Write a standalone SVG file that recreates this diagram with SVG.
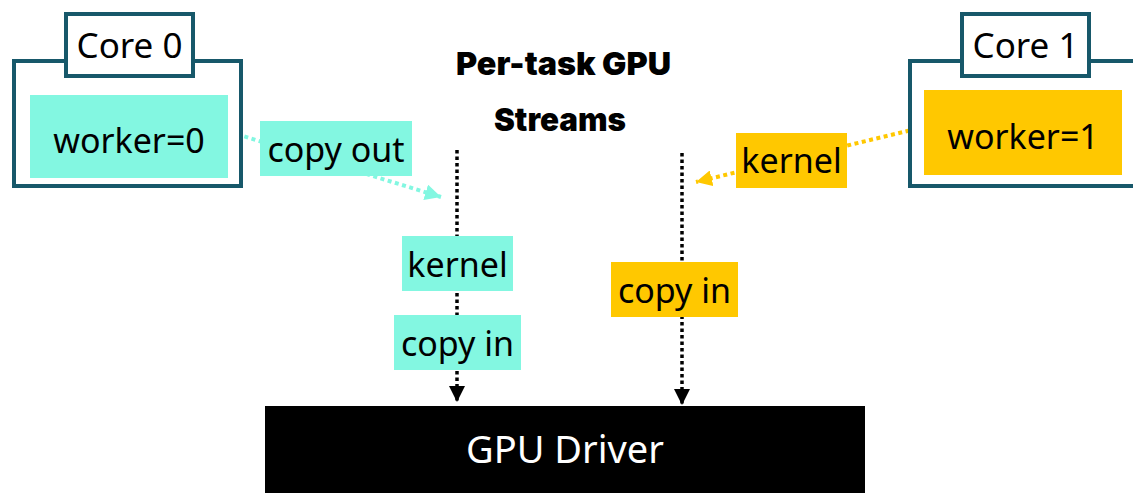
<svg xmlns="http://www.w3.org/2000/svg" width="1133" height="493" viewBox="0 0 1133 493">
<style>
.core{fill:#fff;stroke:#17586a;stroke-width:4}
.lbl{fill:#fff;stroke:#17586a;stroke-width:4}
.teal{fill:#83f7e1}
.yel{fill:#ffc800}
.t{font-family:"Noto Sans","Open Sans",sans-serif;font-size:34px;fill:#000;text-anchor:middle}
.core-t{font-size:35px}
.drv{font-size:38px;fill:#fff}
.title{font-family:Inter,"Liberation Sans",sans-serif;font-weight:900;font-size:32px;fill:#000;text-anchor:middle}
.stream{stroke:#000;stroke-width:3.5;stroke-dasharray:3.5 3;fill:none}
.tc{stroke:#83f7e1;stroke-width:4;stroke-dasharray:4 3.5;fill:none}
.yc{stroke:#ffc800;stroke-width:4;stroke-dasharray:4 3.5;fill:none}
</style>
<defs>
<marker id="ah" viewBox="0 0 16 16" refX="16" refY="8" markerWidth="16" markerHeight="16" markerUnits="userSpaceOnUse" orient="auto"><path d="M0,0 L16,8 L0,16 z" fill="#000"/></marker>
<marker id="aht" viewBox="0 0 16 16" refX="16" refY="8" markerWidth="16" markerHeight="16" markerUnits="userSpaceOnUse" orient="auto"><path d="M0,0 L16,8 L0,16 z" fill="#83f7e1"/></marker>
<marker id="ahy" viewBox="0 0 16 16" refX="16" refY="8" markerWidth="16" markerHeight="16" markerUnits="userSpaceOnUse" orient="auto"><path d="M0,0 L16,8 L0,16 z" fill="#ffc800"/></marker>
</defs>
<rect width="1133" height="493" fill="#fff"/>
<g id="title">
<text class="title" x="563.5" y="75" textLength="215" lengthAdjust="spacingAndGlyphs">Per-task GPU</text>
<text class="title" x="560" y="131" textLength="132" lengthAdjust="spacingAndGlyphs">Streams</text>
</g>
<g id="connectors">
<line class="stream" x1="457" y1="150" x2="457" y2="402" marker-end="url(#ah)"/>
<line class="stream" x1="682" y1="153" x2="682" y2="405" marker-end="url(#ah)"/>
<line class="tc" x1="230" y1="132" x2="441" y2="197" marker-end="url(#aht)"/>
<line class="yc" x1="924" y1="127" x2="696" y2="182" marker-end="url(#ahy)"/>
</g>
<g id="core0">
<rect class="core" x="14" y="61" width="227" height="125"/>
<rect class="lbl" x="66" y="14" width="127" height="62"/>
<text class="t core-t" x="129.5" y="58">Core 0</text>
<rect class="teal" x="30" y="95" width="198" height="83"/>
<text class="t" x="129" y="153">worker=0</text>
</g>
<g id="core1">
<rect class="core" x="910" y="61" width="240" height="125"/>
<rect class="lbl" x="962" y="14" width="127" height="62"/>
<text class="t core-t" x="1025.5" y="58">Core 1</text>
<rect class="yel" x="924" y="90" width="198" height="85"/>
<text class="t" x="1023" y="149">worker=1</text>
</g>
<g id="copy-out">
<rect class="teal" x="260" y="121" width="152" height="55"/>
<text class="t" x="336" y="162">copy out</text>
</g>
<g id="kernel-1">
<rect class="yel" x="736" y="133" width="111" height="55"/>
<text class="t" x="791.5" y="173">kernel</text>
</g>
<g id="kernel-0">
<rect class="teal" x="402" y="236" width="111" height="55"/>
<text class="t" x="457.5" y="277">kernel</text>
</g>
<g id="copy-in-0">
<rect class="teal" x="394" y="315" width="127" height="55"/>
<text class="t" x="457.5" y="356">copy in</text>
</g>
<g id="copy-in-1">
<rect class="yel" x="611" y="262" width="127" height="55"/>
<text class="t" x="674.5" y="303">copy in</text>
</g>
<g id="gpu-driver">
<rect x="265" y="406" width="600" height="87" fill="#000"/>
<text class="t drv" x="565" y="463">GPU Driver</text>
</g>
</svg>
